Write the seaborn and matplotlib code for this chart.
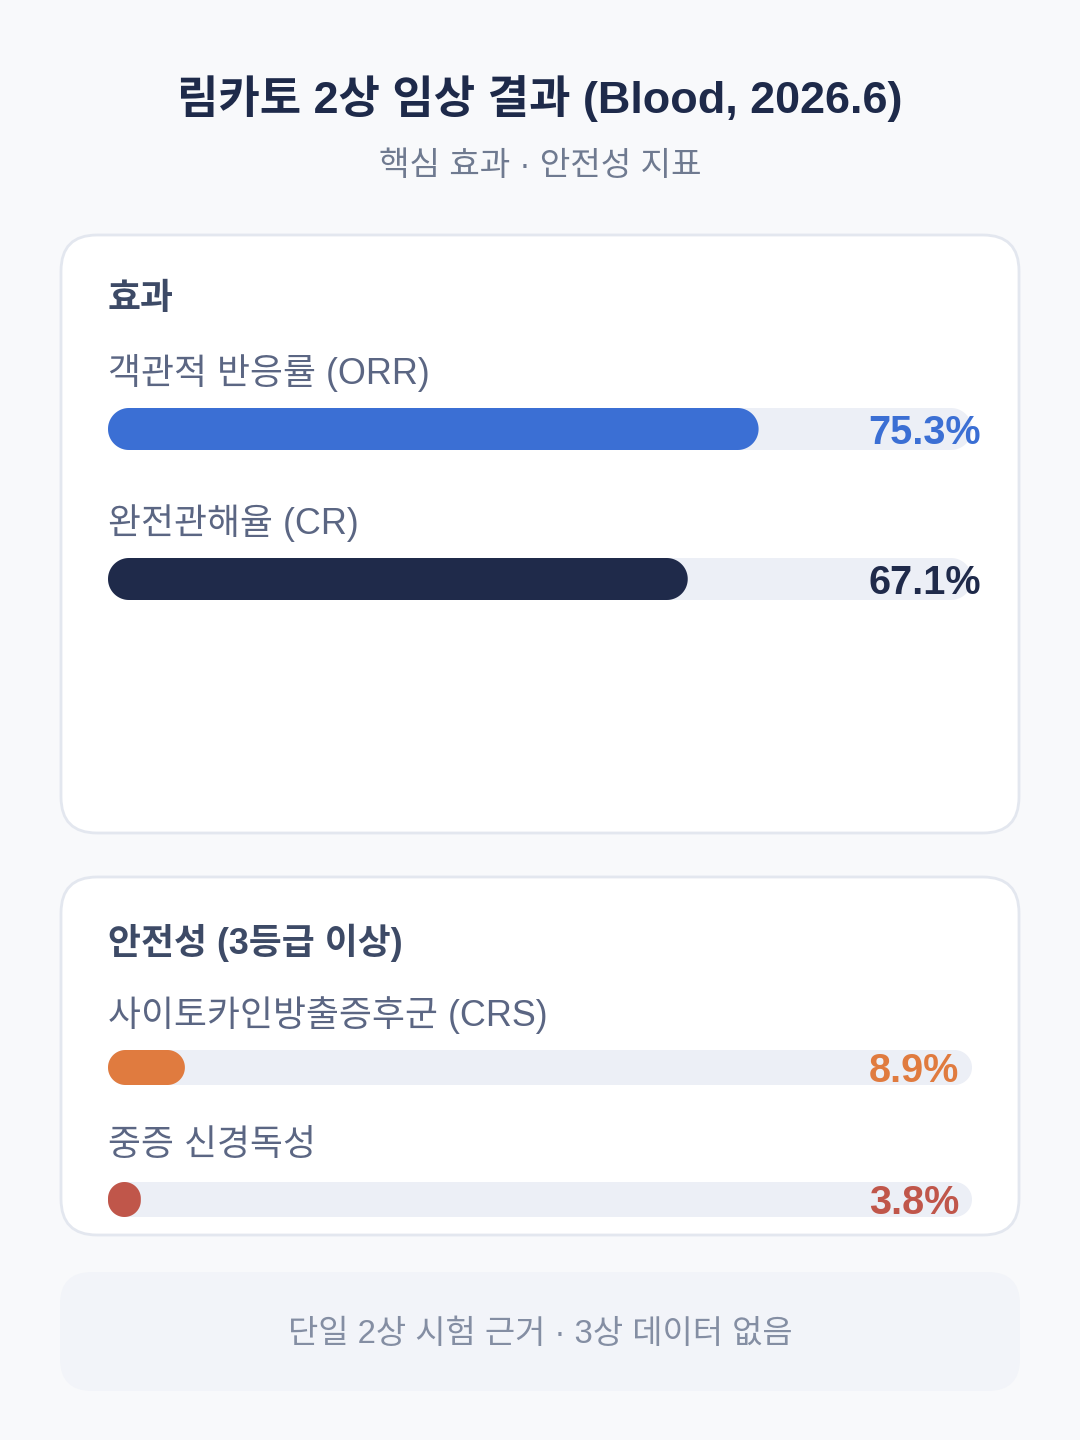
import matplotlib
matplotlib.use("Agg")
import matplotlib.pyplot as plt
from matplotlib.patches import FancyBboxPatch, Polygon
import seaborn as sns
import pandas as pd
import numpy as np

sns.set_theme(style="white")
plt.rcParams['font.family'] = ['Liberation Sans', 'Noto Sans CJK KR', 'DejaVu Sans']

# ---------------- data ----------------
title = "림카토 2상 임상 결과 (Blood, 2026.6)"
subtitle = "핵심 효과 · 안전성 지표"
section_titles = ["효과", "안전성 (3등급 이상)"]
efficacy_labels = ["객관적 반응률 (ORR)", "완전관해율 (CR)"]
efficacy_values = [75.3, 67.1]
safety_labels = ["사이토카인방출증후군 (CRS)", "중증 신경독성"]
safety_values = [8.9, 3.8]
scale_max = 100
footer = "단일 2상 시험 근거 · 3상 데이터 없음"

# ---------------- style ----------------
W, H = 1080, 1440
BG = "#f8f9fb"
CARD = "#ffffff"
CARD_EDGE = "#e3e7ef"
TRACK = "#eceff6"
efficacy_colors = ["#3b6fd4", "#1f2a4a"]
safety_colors = ["#e07b3f", "#c0564a"]

fig = plt.figure(figsize=(W / 100, H / 100), dpi=100, facecolor=BG)
bg = fig.add_axes([0, 0, 1, 1])
bg.set_xlim(0, W)
bg.set_ylim(H, 0)
bg.axis("off")
bg.set_facecolor(BG)


def card(x0, y0, x1, y1, r, face, edge=None, lw=0):
    p = FancyBboxPatch((x0 + r, y0 + r), (x1 - x0) - 2 * r, (y1 - y0) - 2 * r,
                       boxstyle=f"round,pad={r}", facecolor=face,
                       edgecolor=edge if edge else face, linewidth=lw)
    bg.add_patch(p)


card(61, 235, 1019, 833, 36, CARD, CARD_EDGE, 2)
card(61, 877, 1019, 1235, 36, CARD, CARD_EDGE, 2)
card(60, 1272, 1020, 1391, 32, "#f2f4f9")

bg.text(540, 99, title, ha="center", va="center", fontsize=32.4, fontweight="bold",
        color="#1e2a4a")
bg.text(540, 166, subtitle, ha="center", va="center", fontsize=23.9, color="#6f7a90")
bg.text(540, 1335, footer, ha="center", va="center", fontsize=23.7, color="#848ea3")

bg.text(108, 300, section_titles[0], ha="left", va="center", fontsize=25.8,
        fontweight="bold", color="#3d4a66")
bg.text(108, 943, section_titles[1], ha="left", va="center", fontsize=25.8,
        fontweight="bold", color="#3d4a66")


def capsule_vertices(bx, by, bw, bh, px_per_x, px_per_y, n=24):
    wpx, hpx = bw * px_per_x, bh * px_per_y
    r = min(wpx, hpx) / 2
    rx, ry = r / px_per_x, r / px_per_y
    centers = [(bx + bw - rx, by + bh - ry, 0), (bx + rx, by + bh - ry, 90),
               (bx + rx, by + ry, 180), (bx + bw - rx, by + ry, 270)]
    pts = []
    for cx, cy, a0 in centers:
        t = np.radians(np.linspace(a0, a0 + 90, n))
        pts.extend(zip(cx + rx * np.cos(t), cy + ry * np.sin(t)))
    return np.array(pts)


def bar_row(label, value, color, label_y, bar_top, bar_h, val_right, val_y):
    bg.text(108, label_y, label, ha="left", va="center", fontsize=25.8, color="#5b6683")
    x0, x1 = 108, 972
    ax = fig.add_axes([x0 / W, 1 - (bar_top + bar_h) / H, (x1 - x0) / W, bar_h / H])
    df = pd.DataFrame({"metric": [label, label], "value": [scale_max, value],
                       "kind": ["track", "value"]})
    sns.barplot(data=df, x="value", y="metric", hue="kind", orient="h",
                palette={"track": TRACK, "value": color}, dodge=False,
                width=1.0, legend=False, ax=ax, saturation=1)
    ax.set_xlim(0, scale_max)
    ax.set_ylim(-0.5, 0.5)
    ax.axis("off")
    ax.patch.set_alpha(0)
    px_per_x = (x1 - x0) / scale_max
    px_per_y = bar_h
    for p in list(ax.patches):
        bx, by = p.get_x(), p.get_y()
        bw, bh = p.get_width(), p.get_height()
        fc = p.get_facecolor()
        p.remove()
        verts = capsule_vertices(bx, by, bw, bh, px_per_x, px_per_y)
        ax.add_patch(Polygon(verts, closed=True, facecolor=fc, edgecolor="none",
                             zorder=1 if bw == scale_max else 2))
    fig.text(val_right, val_y, f"{value:.1f}%", ha="right", va="center",
             fontsize=28.5, fontweight="bold", color=color,
             transform=bg.transData, zorder=5,
             family=["Liberation Sans", "DejaVu Sans"])


bar_row(efficacy_labels[0], efficacy_values[0], efficacy_colors[0], 373, 408, 42, 981, 433)
bar_row(efficacy_labels[1], efficacy_values[1], efficacy_colors[1], 523, 558, 42, 981, 583)
bar_row(safety_labels[0], safety_values[0], safety_colors[0], 1015, 1050, 35, 959, 1071)
bar_row(safety_labels[1], safety_values[1], safety_colors[1], 1145, 1182, 35, 959, 1203)

fig.savefig("out.png", dpi=100, facecolor=BG)
